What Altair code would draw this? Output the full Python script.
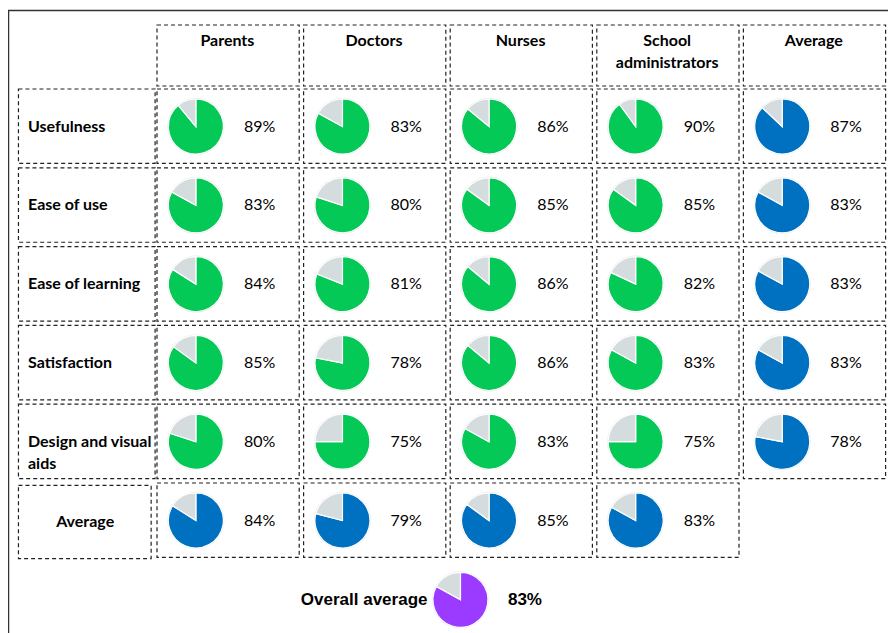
import altair as alt
import pandas as pd

# ---------------- data ----------------
group_labels = ["Parents", "Doctors", "Nurses", "School\nadministrators", "Average"]
criteria_labels = ["Usefulness", "Ease of use", "Ease of learning", "Satisfaction",
                   "Design and visual\naids", "Average"]

parents = [89, 83, 84, 85, 80, 84]
doctors = [83, 80, 81, 78, 75, 79]
nurses = [86, 85, 86, 86, 83, 85]
school_admins = [90, 85, 82, 83, 75, 83]
average_col = [87, 83, 83, 83, 78]
overall_average = 83
overall_label = "Overall average"

GREEN = "#05C957"
BLUE = "#0070C0"
PURPLE = "#9B3BFF"
GRAY = "#D5DCDE"

W, H = 878, 623
PITCH_X = 146.6
PITCH_Y = 78.8

# ---------------- tables built from the arrays ----------------
series = [parents, doctors, nurses, school_admins, average_col]
cells = []
for k, vals in enumerate(series):
    for r, v in enumerate(vals):
        kind = "blue" if (k == 4 or r == 5) else "green"
        cells.append({"col": k, "row": r, "value": v, "kind": kind,
                      "label": f"{v}%", "overall": 0})
overall_cell = {"col": 2, "row": 6, "value": overall_average, "kind": "purple",
                "label": f"{overall_average}%", "overall": 1}
all_cells = cells + [overall_cell]

segs = []
for c in all_cells:
    segs.append({**c, "t0": 0, "t1": c["value"], "part": c["kind"]})
    segs.append({**c, "t0": c["value"], "t1": 100, "part": "gray"})
seg_df = pd.DataFrame(segs)
cell_df = pd.DataFrame(cells)
ring_df = pd.DataFrame([{**c, "t0": 0, "t1": 100} for c in all_cells])

header_df = pd.DataFrame({"col": list(range(len(group_labels))), "text": group_labels})
rowlab_df = pd.DataFrame({"row": list(range(len(criteria_labels))), "text": criteria_labels})

# dashed boxes (grid units derived from cell indices)
boxes = []
for k in range(5):
    boxes.append({"x1": k + 0.01, "x2": k + 0.98, "y1": -0.812, "y2": -0.038})
    for r in range(6):
        if k == 4 and r == 5:
            continue
        boxes.append({"x1": k + 0.01, "x2": k + 0.98, "y1": r, "y2": r + 0.945})
for r in range(6):
    if r < 5:
        boxes.append({"x1": -0.935, "x2": -0.003, "y1": r, "y2": r + 0.945})
    else:
        boxes.append({"x1": -0.935, "x2": -0.03, "y1": r + 0.03, "y2": r + 0.96})
box_df = pd.DataFrame(boxes)

x0 = 0.01 - 149.0 / PITCH_X
xs = alt.Scale(domain=[x0, x0 + W / PITCH_X], nice=False, zero=False)
ys = alt.Scale(domain=[-1.0025, -1.0025 + H / PITCH_Y], nice=False, zero=False, reverse=True)

def X(f):
    return alt.X(f, type="quantitative", scale=xs, axis=None)

def Y(f):
    return alt.Y(f, type="quantitative", scale=ys, axis=None)

box_layer = alt.Chart(box_df).mark_rect(
    fillOpacity=0, stroke="#222222", strokeWidth=1.2, strokeDash=[4, 3]
).encode(x=X("x1"), x2="x2", y=Y("y1"), y2="y2")

pie_pos = dict(
    px="datum.overall ? 2.08 : datum.col + 0.275",
    py="datum.overall ? 6.482 : datum.row + 0.476",
)
theta_scale = alt.Scale(domain=[0, 100], range=[0, 6.2832])

rings = alt.Chart(ring_df).transform_calculate(**pie_pos).mark_arc(
    radius=28.5, fill="#E6E8E9"
).encode(
    x=X("px"), y=Y("py"),
    theta=alt.Theta("t0:Q", scale=theta_scale, stack=None), theta2="t1:Q",
)

pies = alt.Chart(seg_df).transform_calculate(**pie_pos).mark_arc(
    radius=27.5, stroke="white", strokeWidth=1.2
).encode(
    x=X("px"),
    y=Y("py"),
    theta=alt.Theta("t0:Q", scale=theta_scale, stack=None),
    theta2="t1:Q",
    color=alt.Color("part:N",
                    scale=alt.Scale(domain=["green", "blue", "purple", "gray"],
                                    range=[GREEN, BLUE, PURPLE, GRAY]),
                    legend=None),
)

pct = alt.Chart(cell_df).transform_calculate(
    px="datum.col + 0.71", py="datum.row + 0.476"
).mark_text(font="Lato", fontSize=16, color="#000000", align="center", baseline="middle").encode(
    x=X("px"), y=Y("py"), text="label:N"
)

headers = alt.Chart(header_df).transform_calculate(
    px="datum.col + 0.49", py="-0.55"
).mark_text(font="Lato", fontSize=16, fontWeight="bold", color="#000000", align="center",
            baseline="alphabetic", lineBreak="\n", lineHeight=22).encode(
    x=X("px"), y=Y("py"), text="text:N"
)

rowlabs = alt.Chart(rowlab_df).transform_filter("datum.row < 5").transform_calculate(
    px="-0.87", py="datum.row + 0.476"
).mark_text(font="Lato", fontSize=16, fontWeight="bold", color="#000000", align="left",
            baseline="middle", lineBreak="\n", lineHeight=22).encode(
    x=X("px"), y=Y("py"), text="text:N"
)

avglab = alt.Chart(rowlab_df).transform_filter("datum.row == 5").transform_calculate(
    px="-0.48", py="datum.row + 0.5"
).mark_text(font="Lato", fontSize=16, fontWeight="bold", color="#000000", align="center",
            baseline="middle").encode(
    x=X("px"), y=Y("py"), text="text:N"
)

overall_text = alt.Chart(pd.DataFrame([{"text": overall_label, "label": f"{overall_average}%"}])).transform_calculate(
    px="1.855", py="6.49", px2="2.52"
)
overall_lab = overall_text.mark_text(font="Liberation Sans", fontSize=17, fontWeight="bold",
                                     color="#000000", align="right", baseline="middle").encode(
    x=X("px"), y=Y("py"), text="text:N"
)
overall_pct = overall_text.mark_text(font="Liberation Sans", fontSize=17, fontWeight="bold",
                                     color="#000000", align="center", baseline="middle").encode(
    x=X("px2"), y=Y("py"), text="label:N"
)

frame_left = alt.Chart(pd.DataFrame({"a": [0]})).mark_rule(color="#333333", strokeWidth=1.5).encode(
    x=alt.value(0.5), y=alt.value(0), y2=alt.value(H + 10)
)
frame_top = alt.Chart(pd.DataFrame({"a": [0]})).mark_rule(color="#333333", strokeWidth=1.5).encode(
    x=alt.value(0), x2=alt.value(W + 10), y=alt.value(0.5)
)

chart = alt.layer(
    frame_left, frame_top, box_layer, rings, pies, pct, headers, rowlabs, avglab,
    overall_lab, overall_pct
).properties(
    width=W, height=H,
    autosize=alt.AutoSizeParams(type="none"),
    padding={"left": 0, "top": 2, "right": 2, "bottom": 0},
    background="white",
).configure_view(stroke=None)

chart.save("out.html", embed_options={"renderer": "svg", "actions": False})
